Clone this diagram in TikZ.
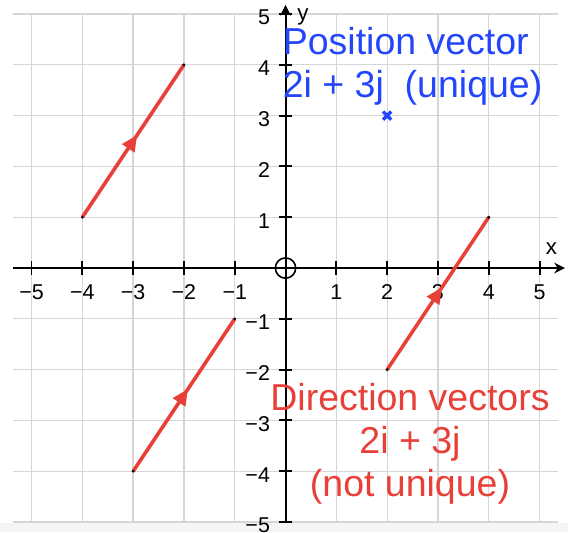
\documentclass[tikz,border=0pt]{standalone}
\usepackage{fontspec}
\setmainfont{Liberation Sans}
\usetikzlibrary{arrows.meta,decorations.markings}
\definecolor{posblue}{RGB}{35,70,250}
\definecolor{dirred}{RGB}{232,64,56}

\begin{document}
\begin{tikzpicture}[line cap=butt,x=1cm,y=1cm,
  gridline/.style={black!16,line width=0.7pt},
  axis/.style={black,line width=1.1pt},
  axistip/.style={-{Stealth[length=6pt,width=6pt]}},
  ticklabel/.style={font=\fontsize{12}{14}\selectfont,inner sep=0pt},
  axislabel/.style={font=\fontsize{12.5}{14}\selectfont,inner sep=0pt},
  dirvec/.style={dirred,line width=2pt,postaction={decorate},
    decoration={markings,mark=at position 0.54 with {\arrow{Triangle[length=9pt,width=8pt]}}}},
  bigtext/.style={font=\fontsize{21}{24}\selectfont,inner sep=0pt}]
\useasboundingbox (-5.62,-5.197) rectangle (5.56,5.276);
\fill[black!4] (-5.62,-5.197) rectangle (5.56,-5.02);
% grid
\foreach \i in {-5,...,5} {
  \draw[gridline] (\i,-5) -- (\i,5);
  \draw[gridline] (-5.37,\i) -- (5.37,\i);
}
% axes
\draw[axis,axistip] (-5.37,0) -- (5.5,0);
\draw[axis,axistip] (0,-5) -- (0,5.18);
\draw[black,line width=0.9pt] (0,0) circle (0.2);
\foreach \i in {-5,...,-1,1,2,...,5} {
  \draw[axis] (\i,-0.13) -- (\i,0.13);
  \draw[axis] (-0.13,\i) -- (0.13,\i);
  \node[ticklabel,anchor=north] (xl\i) at (\i,-0.32) {\ifnum\i<0 −\number-\i\else\i\fi};
  \node[ticklabel,anchor=east] (yl\i) at (-0.3,\i-0.07) {\ifnum\i<0 −\number-\i\else\i\fi};
}
\node[axislabel] (xlab) at (5.235,0.374) {x};
\node[axislabel] (ylab) at (0.345,4.95) {y};
% direction vectors
\coordinate (a1) at (-4,1);  \coordinate (b1) at (-2,4);
\coordinate (a2) at (-3,-4); \coordinate (b2) at (-1,-1);
\coordinate (a3) at (2,-2);  \coordinate (b3) at (4,1);
\foreach \k in {1,2,3} {
  \draw[dirvec] (a\k) -- (b\k);
  \fill (a\k) circle (0.03);
  \fill (b\k) circle (0.03);
}
% position vector
\coordinate (P) at (2,3);
\draw[posblue,line width=1.8pt] ([shift={(-0.08,-0.08)}]P) -- ([shift={(0.08,0.08)}]P);
\draw[posblue,line width=1.8pt] ([shift={(-0.08,0.08)}]P) -- ([shift={(0.08,-0.08)}]P);
\node[bigtext,text=posblue,align=left,anchor=base west] (postext) at (-0.06,3.35) {Position vector\\2i + 3j\ \ (unique)};
\node[bigtext,text=dirred,align=center,anchor=base] (dirtext) at (2.45,-4.50) {Direction vectors\\2i + 3j\\(not unique)};
\end{tikzpicture}
\end{document}
